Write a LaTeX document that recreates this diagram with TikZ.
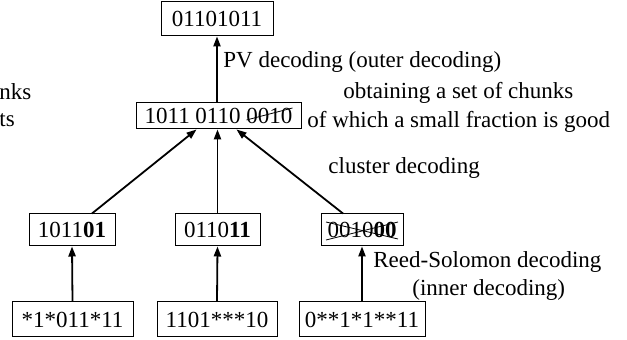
\documentclass[tikz,border=0pt]{standalone}
\usepackage{fontspec}
\setmainfont{Liberation Serif}
\usetikzlibrary{arrows.meta,calc}
\begin{document}
\begin{tikzpicture}[x=0.5pt,y=-0.5pt,
  every node/.style={font=\fontsize{11.5}{14}\selectfont},
  box/.style={draw,line width=0.5pt,inner sep=0pt,minimum height=16pt},
  lbl/.style={anchor=west,inner sep=0pt},
  arr/.style={line width=0.9pt,-{Triangle[length=5pt,width=3.6pt]}},
  strike/.style={line width=0.4pt}]
\useasboundingbox (0,0) rectangle (627,340);
% boxes
\node[box,minimum width=56pt,minimum height=17pt] (T) at (217,19) {01101011};
\node[box,minimum width=82.5pt,minimum height=13pt] (M) at (218.5,116) {1011 0110 0010};
\node[box,minimum width=43pt] (A2) at (72,230) {1011\textbf{01}};
\node[box,minimum width=42.5pt] (B2) at (217.5,230) {0110\textbf{11}};
\node[box,minimum width=41pt] (C2) at (362,230) {0010\textbf{00}};
\node[box,minimum width=60.5pt,minimum height=17.5pt] (A3) at (72.5,319.5) {*1*011*11};
\node[box,minimum width=60pt,minimum height=17.5pt] (B3) at (217,319.5) {1101***10};
\node[box,minimum width=63pt,minimum height=17.5pt] (C3) at (362,319.5) {0**1*1**11};
% strikes
\draw[strike] ($(M.center)+(28,4)$) -- ($(M.center)+(74,-8)$);
\draw[strike] ($(C2.center)+(-36,-8)$) -- ($(C2.center)+(36,9)$);
\draw[strike] ($(C2.center)+(-36,10)$) -- ($(C2.center)+(36,-8)$);
% arrows
\draw[arr] (A3.north) -- (A2.south);
\draw[arr] (B3.north) -- (B2.south);
\draw[arr] (C3.north) -- (C2.south);
\coordinate (a2t) at ($(A2.north)+(20,0)$);
\coordinate (c2t) at ($(C2.north)+(-19,0)$);
\coordinate (mL) at ($(M.south)+(-22,0)$);
\coordinate (mR) at ($(M.south)+(18,0)$);
\draw[arr] (a2t) -- (mL);
\draw[arr] (B2.north) -- (B2.north |- M.south);
\draw[arr] (c2t) -- (mR);
\draw[arr] (T.south |- M.north) -- (T.south);
% labels
\node[lbl] (pv) at (223,62) {PV decoding (outer decoding)};
\node[lbl] (ob) at (343,93) {obtaining a set of chunks};
\node[lbl] (ow) at (307,122) {of which a small fraction is good};
\node[lbl] (cl) at (328,168) {cluster decoding};
\node[lbl] (rs) at (373,262) {Reed-Solomon decoding};
\node[lbl] (in) at (412,290) {(inner decoding)};
\node[lbl] (nk) at (-1,92) {nks};
\node[lbl] (ts) at (-1,120) {ts};
\end{tikzpicture}
\end{document}
